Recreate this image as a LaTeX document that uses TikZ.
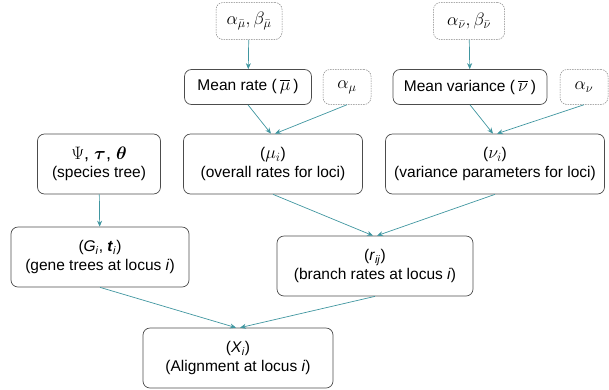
\documentclass[tikz,border=0pt]{standalone}
\usepackage{fontspec}
\setmainfont{Liberation Sans}
\usepackage{fix-cm}
\usepackage{amsmath,bm}
\usetikzlibrary{arrows.meta}
\definecolor{linkteal}{RGB}{64,150,160}
\newcommand{\bigmath}{\fontsize{18}{20}\selectfont}

\begin{document}
\begin{tikzpicture}[x=1pt,y=-1pt,
    box/.style={draw=black!70,line width=0.7pt,rounded corners=7pt,align=center,inner sep=0pt,
      font=\fontsize{15.5}{18.5}\selectfont},
    hyper/.style={box,draw=gray,line width=0.5pt,dash pattern=on 1.5pt off 1pt},
    link/.style={draw=linkteal,line width=0.7pt,-{Stealth[length=6pt,width=5pt]}}]
    \useasboundingbox (0,0) rectangle (609,389);
    % hyperparameters
    \node[hyper,minimum width=66,minimum height=37] (hmu) at (249,21) {\bigmath$\alpha_{\bar\mu},\beta_{\bar\mu}$};
    \node[hyper,minimum width=71,minimum height=37] (hnu) at (469,21) {\bigmath$\alpha_{\bar\nu},\beta_{\bar\nu}$};
    \node[hyper,minimum width=48,minimum height=35] (amu) at (347,87) {\bigmath$\alpha_\mu$};
    \node[hyper,minimum width=48,minimum height=35] (anu) at (584,87) {\bigmath$\alpha_\nu$};
    % means
    \node[box,minimum width=127,minimum height=35] (mrate) at (248,87) {Mean rate ({\bigmath$\,\overline{\mu}\,$})};
    \node[box,minimum width=154,minimum height=35] (mvar) at (470,87) {Mean variance ({\bigmath$\,\overline{\nu}\,$})};
    % loci level
    \node[box,minimum width=123,minimum height=60] (sptree) at (99,164) {{\bigmath$\Psi$, $\bm{\tau}$, $\bm{\theta}$}\\(species tree)};
    \node[box,minimum width=179,minimum height=60] (mu) at (273,164) {({\bigmath$\mu_i$})\\(overall rates for loci)};
    \node[box,minimum width=219,minimum height=60] (nu) at (495,164) {({\bigmath$\nu_i$})\\(variance parameters for loci)};
    \node[box,minimum width=178,minimum height=60] (gtree) at (100,257) {(\textit{G}\textsubscript{\textit{i}}, \textbf{\textit{t}}\textsubscript{\textit{i}})\\(gene trees at locus \textit{i})};
    \node[box,minimum width=196,minimum height=60] (rate) at (375,266) {(\textit{r}\textsubscript{\textit{ij}})\\(branch rates at locus \textit{i})};
    \node[box,minimum width=190,minimum height=60] (align) at (238,358) {(\textit{X}\textsubscript{\textit{i}})\\(Alignment at locus \textit{i})};
    % links
    \draw[link] (hmu) -- (mrate);
    \draw[link] (hnu) -- (mvar);
    \draw[link] (mrate.south) -- ([xshift=-2pt]mu.north);
    \draw[link] (amu.south) -- ([xshift=2pt]mu.north);
    \draw[link] (mvar.south) -- ([xshift=-2pt]nu.north);
    \draw[link] (anu.south) -- ([xshift=2pt]nu.north);
    \draw[link] (sptree) -- (gtree);
    \draw[link] (mu.south) -- ([xshift=-2pt]rate.north);
    \draw[link] (nu.south) -- ([xshift=2pt]rate.north);
    \draw[link] (gtree.south) -- ([xshift=-2pt]align.north);
    \draw[link] (rate.south) -- ([xshift=2pt]align.north);
\end{tikzpicture}
\end{document}
